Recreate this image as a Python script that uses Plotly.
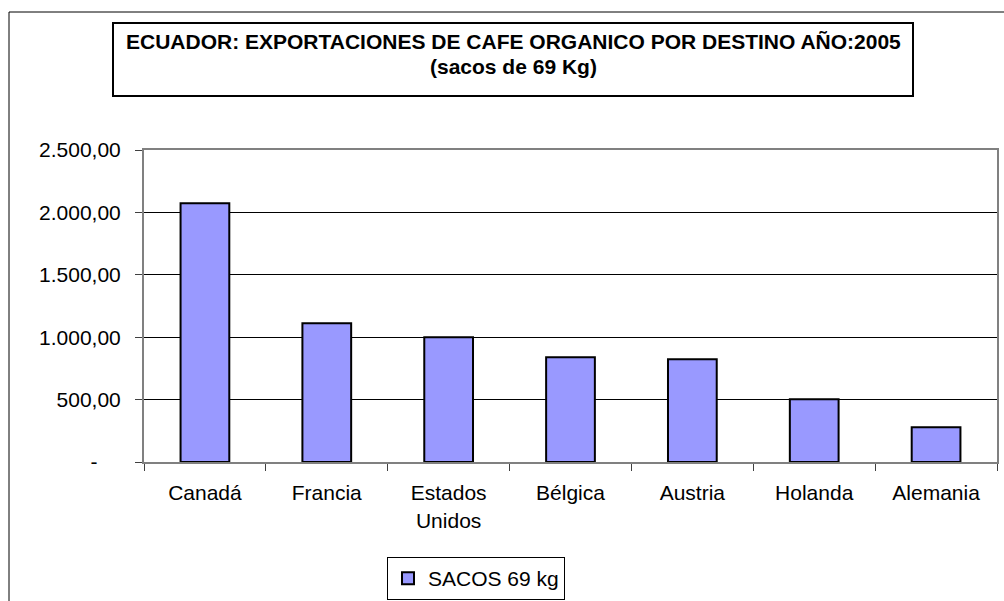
import plotly.graph_objects as go

# datos
destinos = ["Canadá", "Francia", "Estados<br>Unidos", "Bélgica", "Austria", "Holanda", "Alemania"]
sacos = [2073, 1111, 999, 839, 823, 502, 278]
y_ticks = [0, 500, 1000, 1500, 2000, 2500]
y_labels = ["-\u00a0\u00a0\u00a0\u00a0", "500,00", "1.000,00", "1.500,00", "2.000,00", "2.500,00"]
titulo = ["ECUADOR: EXPORTACIONES DE CAFE ORGANICO POR DESTINO AÑO:2005", "(sacos de 69 Kg)"]

W, H = 1004, 601
L, R, T, B = 144, 7, 150, 139
FONT = "Arial, Liberation Sans, sans-serif"


def px_x(p):
    return (p - L) / (W - L - R)


def px_y(p):
    return (H - B - p) / (H - T - B)


fig = go.Figure(go.Bar(
    x=destinos, y=sacos, name="SACOS 69 kg",
    marker=dict(color="#9999FF", line=dict(color="black", width=2)),
))

# marco exterior (solo izquierda y arriba visibles)
fig.add_shape(type="path", xref="paper", yref="paper",
              path=f"M {px_x(9)} {px_y(620)} L {px_x(9)} {px_y(12)} L {px_x(1010)} {px_y(12)}",
              line=dict(color="black", width=1))

# recuadro del título
fig.add_shape(type="rect", xref="paper", yref="paper",
              x0=px_x(113), x1=px_x(913), y0=px_y(96), y1=px_y(23),
              line=dict(color="black", width=2))
for linea, ypix in zip(titulo, [42, 66]):
    fig.add_annotation(
        text=f"<b>{linea}</b>", xref="paper", yref="paper",
        x=px_x(513), y=px_y(ypix), xanchor="center", yanchor="middle",
        showarrow=False, font=dict(family=FONT, size=21, color="black"),
    )

fig.update_layout(
    width=W, height=H,
    margin=dict(l=L, r=R, t=T, b=B, autoexpand=False),
    paper_bgcolor="white", plot_bgcolor="white",
    font=dict(family=FONT, size=21, color="black"),
    bargap=0.6,
    showlegend=True,
    legend=dict(x=px_x(387), y=px_y(557), xanchor="left", yanchor="top",
                bordercolor="black", borderwidth=1, bgcolor="white",
                font=dict(family=FONT, size=21), itemwidth=30),
    xaxis=dict(showgrid=False, showline=True, linecolor="#808080", linewidth=2,
               mirror=True, ticks="outside", ticklen=7, tickcolor="#404040",
               tickson="boundaries", tickfont=dict(size=21),
               ticklabelstandoff=11, automargin=False),
    yaxis=dict(range=[0, 2500], tickvals=y_ticks, ticktext=y_labels,
               showgrid=True, gridcolor="black", gridwidth=1,
               showline=True, linecolor="#808080", linewidth=2, mirror=True,
               ticks="outside", ticklen=7, tickcolor="#404040",
               zeroline=False, tickfont=dict(size=21),
               ticklabelstandoff=10, automargin=False),
)

fig.write_html("out.html", config={"displayModeBar": False},
               post_script="document.body.style.margin='0';")
